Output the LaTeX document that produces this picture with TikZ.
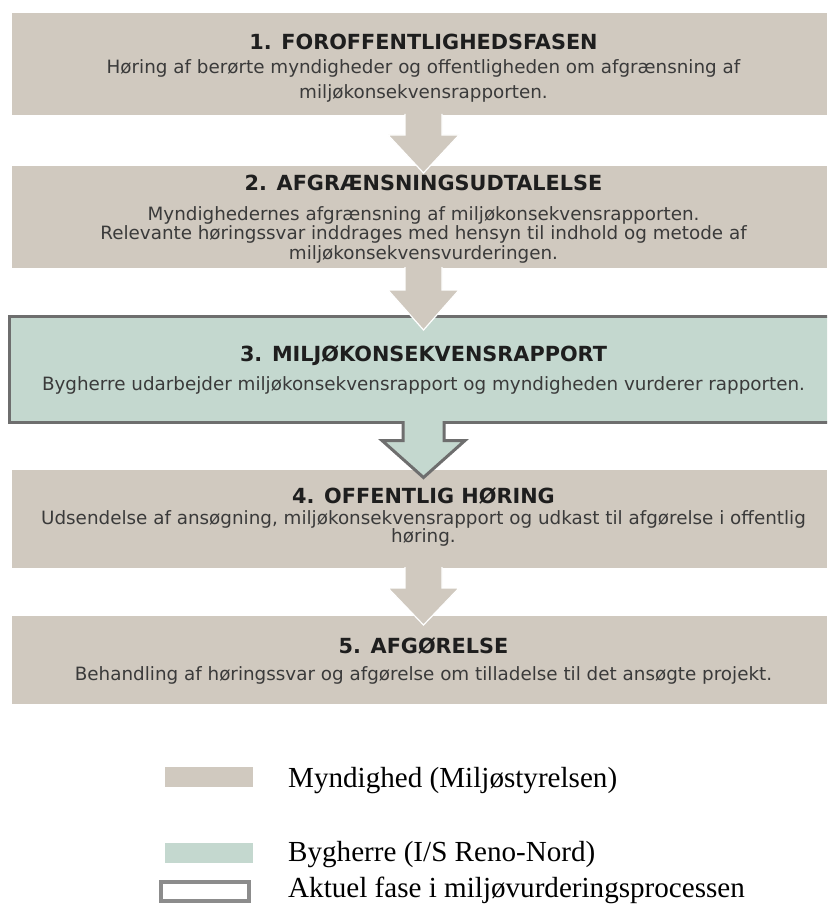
\documentclass[tikz,border=0pt]{standalone}
\usepackage{fontspec}
\usetikzlibrary{calc}
\newfontfamily\bodyfont{DejaVu Sans}
\newfontfamily\legfont{Liberation Serif}
\definecolor{tanfill}{HTML}{D0C9BF}
\definecolor{greenfill}{HTML}{C4D8CF}
\definecolor{bordergrey}{HTML}{6E6E6E}
\definecolor{legendgrey}{HTML}{8C8C8C}
\definecolor{headcol}{HTML}{1E1E1E}
\definecolor{bodycol}{HTML}{3A3A3A}
\newlength\tmplen
\begin{document}
\settowidth\tmplen{\bodyfont\fontsize{10pt}{12pt}\selectfont Bygherre udarbejder miljøkonsekvensrapport og myndigheden vurderer rapporten.}%
\pgfmathsetmacro\bodysz{10*763/\tmplen}%
\settowidth\tmplen{\bodyfont\bfseries\fontsize{10pt}{12pt}\selectfont 3. MILJØKONSEKVENSRAPPORT}%
\pgfmathsetmacro\headsz{10*367/\tmplen}%
\settowidth\tmplen{\legfont\fontsize{10pt}{12pt}\selectfont Myndighed (Miljøstyrelsen)}%
\pgfmathsetmacro\legsz{10*329/\tmplen}%
\begin{tikzpicture}[x=1pt,y=-1pt]
\tikzset{
  boxbase/.style={rectangle, inner sep=0pt, outer sep=0pt, anchor=north west},
  tanbox/.style={boxbase, fill=tanfill, draw=none},
  greenbox/.style={boxbase, fill=greenfill, draw=bordergrey, line width=3pt},
  head/.style={font=\bodyfont\bfseries\fontsize{\headsz pt}{\headsz pt}\selectfont, text=headcol, anchor=base, inner sep=0pt},
  body/.style={font=\bodyfont\fontsize{\bodysz pt}{\bodysz pt}\selectfont, text=bodycol, anchor=base, inner sep=0pt},
  legtext/.style={font=\legfont\fontsize{\legsz pt}{\legsz pt}\selectfont, text=black, anchor=base west, inner sep=0pt},
  swatch/.style={rectangle, inner sep=0pt, outer sep=0pt, anchor=north west, minimum width=88pt, minimum height=20pt},
  tanarrow/.style={fill=tanfill, draw=white, line width=1.2pt, line join=miter},
  greenarrowfill/.style={fill=greenfill, draw=none},
  greenarrowline/.style={draw=bordergrey, line width=3pt, line join=miter}
}
\useasboundingbox (0,0) rectangle (827,904);
\clip (0,0) rectangle (827,904);
\fill[white] (0,0) rectangle (827,904);
\coordinate (ax) at (423.5,0);

% boxes
\node[tanbox, minimum width=815pt, minimum height=102pt] (b1) at (12,13) {};
\node[tanbox, minimum width=815pt, minimum height=102pt] (b2) at (12,166) {};
\node[greenbox, minimum width=821pt, minimum height=106pt] (b3) at (9.5,316.5) {};
\node[tanbox, minimum width=815pt, minimum height=98pt] (b4) at (12,470) {};
\node[tanbox, minimum width=815pt, minimum height=88pt] (b5) at (12,616) {};

% texts
\node[head] (h1) at (423.5,50) {1. FOROFFENTLIGHEDSFASEN};
\node[body] (t1a) at (423.5,74) {Høring af berørte myndigheder og offentligheden om afgrænsning af};
\node[body] (t1b) at (423.5,99) {miljøkonsekvensrapporten.};

\node[head] (h2) at (423.5,190) {2. AFGRÆNSNINGSUDTALELSE};
\node[body] (t2a) at (423.5,220) {Myndighedernes afgrænsning af miljøkonsekvensrapporten.};
\node[body] (t2b) at (423.5,239.5) {Relevante høringssvar inddrages med hensyn til indhold og metode af};
\node[body] (t2c) at (423.5,259) {miljøkonsekvensvurderingen.};

\node[head] (h3) at (423.5,361) {3. MILJØKONSEKVENSRAPPORT};
\node[body] (t3a) at (423.5,390) {Bygherre udarbejder miljøkonsekvensrapport og myndigheden vurderer rapporten.};

\node[head] (h4) at (423.5,503) {4. OFFENTLIG HØRING};
\node[body] (t4a) at (423.5,524) {Udsendelse af ansøgning, miljøkonsekvensrapport og udkast til afgørelse i offentlig};
\node[body] (t4b) at (423.5,542) {høring.};

\node[head] (h5) at (423.5,653) {5. AFGØRELSE};
\node[body] (t5a) at (423.5,680) {Behandling af høringssvar og afgørelse om tilladelse til det ansøgte projekt.};

% block arrows
\path[tanarrow] ($(b1.south -| ax)+(-18.5,-1)$) -- ++(0,21) -- ++(-17,0) -- ++(35.5,38) -- ++(35.5,-38) -- ++(-17,0) -- ++(0,-21);
\path[tanarrow] ($(b2.south -| ax)+(-18.5,-1)$) -- ++(0,23) -- ++(-17,0) -- ++(35.5,40) -- ++(35.5,-40) -- ++(-17,0) -- ++(0,-23);
\path[greenarrowfill] ($(b3.south -| ax)+(-20.5,-1.5)$) -- ++(0,19.5) -- ++(-21,0) -- ++(41.5,37) -- ++(41.5,-37) -- ++(-21,0) -- ++(0,-19.5) -- cycle;
\path[greenarrowline] ($(b3.south -| ax)+(-20.5,-1.5)$) -- ++(0,19.5) -- ++(-21,0) -- ++(41.5,37) -- ++(41.5,-37) -- ++(-21,0) -- ++(0,-19.5);
\path[tanarrow] ($(b4.south -| ax)+(-18.5,-1)$) -- ++(0,21) -- ++(-17,0) -- ++(35.5,37) -- ++(35.5,-37) -- ++(-17,0) -- ++(0,-21);

% legend
\node[swatch, fill=tanfill] (l1) at (165,767) {};
\node[legtext] (lt1) at (288,787.5) {Myndighed (Miljøstyrelsen)};
\node[swatch, fill=greenfill] (l2) at (165,843) {};
\node[legtext] (lt2) at (288,861.5) {Bygherre (I/S Reno-Nord)};
\node[swatch, fill=white, draw=legendgrey, line width=4pt, minimum height=19pt] (l3) at (161,882) {};
\node[legtext] (lt3) at (288,897.5) {Aktuel fase i miljøvurderingsprocessen};
\end{tikzpicture}
\end{document}
